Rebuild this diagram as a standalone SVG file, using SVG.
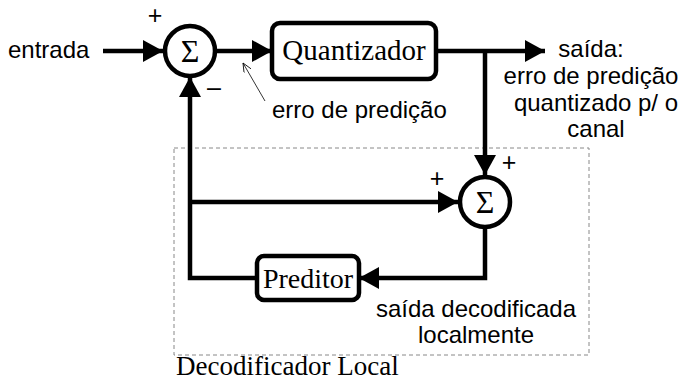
<svg xmlns="http://www.w3.org/2000/svg" width="686" height="381" viewBox="0 0 686 381">
<style>
.wire{fill:none;stroke:#000;stroke-width:4.5}
.arr{marker-end:url(#ah)}
.node{fill:#fff;stroke:#000;stroke-width:4.5}
.serif{font-family:"Liberation Serif","Times New Roman",serif;fill:#000}
.sans{font-family:"Liberation Sans",Arial,sans-serif;fill:#000;font-size:24px}
.sign{font-family:"Liberation Sans",Arial,sans-serif;fill:#000;font-size:25px;text-anchor:middle}
</style>
<defs>
<marker id="ah" markerUnits="userSpaceOnUse" markerWidth="22" markerHeight="24" refX="20" refY="11" orient="auto">
<path d="M0,0 L20,11 L0,22 z" fill="#000"/>
</marker>
<marker id="thin" markerUnits="userSpaceOnUse" markerWidth="12" markerHeight="12" refX="9" refY="4" orient="auto">
<path d="M0,0 L9,4 L0,8" fill="none" stroke="#000" stroke-width="0.8"/>
</marker>
</defs>
<rect id="decodificador-local" x="174" y="148" width="415" height="207" fill="none" stroke="#888" stroke-width="1" stroke-dasharray="4,3"/>
<g id="connectors">
<line class="wire arr" x1="103" y1="51" x2="163" y2="51"/>
<line class="wire arr" x1="215" y1="51" x2="272" y2="51"/>
<line class="wire arr" x1="436" y1="51" x2="545" y2="51"/>
<line class="wire arr" x1="485" y1="51" x2="485" y2="175"/>
<line class="wire arr" x1="190" y1="202" x2="458" y2="202"/>
<polyline class="wire arr" points="485,227 485,278 359,278"/>
<polyline class="wire arr" points="257,278 190,278 190,77"/>
<line x1="265" y1="101" x2="243" y2="63" stroke="#000" stroke-width="0.8" marker-end="url(#thin)"/>
</g>
<g id="sum1">
<circle class="node" cx="190" cy="51" r="25"/>
<text class="serif" x="190" y="62" font-size="32" text-anchor="middle">Σ</text>
</g>
<g id="quantizador">
<rect class="node" x="272" y="23" width="164" height="56" rx="8"/>
<text class="serif" x="354" y="60" font-size="29" text-anchor="middle">Quantizador</text>
</g>
<g id="sum2">
<circle class="node" cx="485" cy="202" r="25"/>
<text class="serif" x="485" y="213" font-size="32" text-anchor="middle">Σ</text>
</g>
<g id="preditor">
<rect class="node" x="257" y="256" width="102" height="44" rx="7"/>
<text class="serif" x="308" y="288" font-size="28" text-anchor="middle">Preditor</text>
</g>
<g id="labels">
<text class="sans" x="8" y="58">entrada</text>
<text class="sign" x="155" y="24">+</text>
<text class="sign" x="214" y="96">–</text>
<text class="sign" x="509" y="171">+</text>
<text class="sign" x="437" y="187">+</text>
<text class="sans" x="272" y="118">erro de predição</text>
<text class="sans" text-anchor="middle" x="591" y="57">saída:</text>
<text class="sans" text-anchor="middle" x="591" y="84">erro de predição</text>
<text class="sans" text-anchor="middle" x="596" y="111">quantizado p/ o</text>
<text class="sans" text-anchor="middle" x="596" y="137">canal</text>
<text class="sans" text-anchor="middle" x="476" y="317">saída decodificada</text>
<text class="sans" text-anchor="middle" x="476" y="343">localmente</text>
<text class="serif" x="176" y="375" font-size="27">Decodificador Local</text>
</g>
</svg>
